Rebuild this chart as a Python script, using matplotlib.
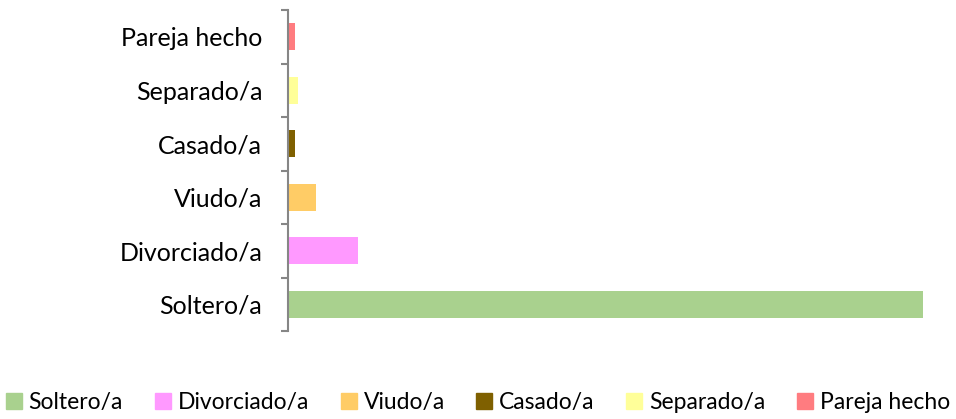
import matplotlib
matplotlib.use("Agg")
import matplotlib.pyplot as plt
from matplotlib.patches import Patch

# datos (recuentos estimados a partir de la imagen)
categorias = ["Soltero/a", "Divorciado/a", "Viudo/a", "Casado/a", "Separado/a", "Pareja hecho"]
valores = [182, 20, 8, 2, 3, 2]
colores = ["#A9D18E", "#FF99FF", "#FFCC66", "#7F6000", "#FFFF99", "#FF7C80"]

plt.rcParams['font.family'] = ['Lato', 'DejaVu Sans']

fig = plt.figure(figsize=(9.56, 4.19), dpi=100)
ax = fig.add_axes([288 / 956, 1 - 331 / 419, (923 - 288) / 956, 321 / 419])

pos = list(range(len(categorias)))
ax.barh(pos, valores, height=0.5, color=colores)
ax.set_xlim(0, max(valores))
ax.set_ylim(-0.5, len(categorias) - 0.5)

ax.set_yticks([p - 0.5 for p in pos] + [len(categorias) - 0.5])
ax.set_yticklabels([])
ax.set_yticks(pos, minor=True)
ax.set_yticklabels(categorias, minor=True, fontsize=18)
ax.tick_params(axis='y', which='major', length=5, width=1.5, color='#868686', direction='out')
ax.tick_params(axis='y', which='minor', length=0, pad=18.5)
ax.set_xticks([])

for s in ['top', 'right', 'bottom']:
    ax.spines[s].set_visible(False)
ax.spines['left'].set_color('#868686')
ax.spines['left'].set_linewidth(1.5)

handles = [Patch(color=c, label=l) for c, l in zip(colores, categorias)]
fig.legend(handles=handles, loc='lower center', bbox_to_anchor=(0.5, -0.035), ncol=6,
           frameon=False, fontsize=16.5, handlelength=0.7, handleheight=0.7,
           handletextpad=0.3, columnspacing=1.38)

fig.savefig("out.png", dpi=100)
